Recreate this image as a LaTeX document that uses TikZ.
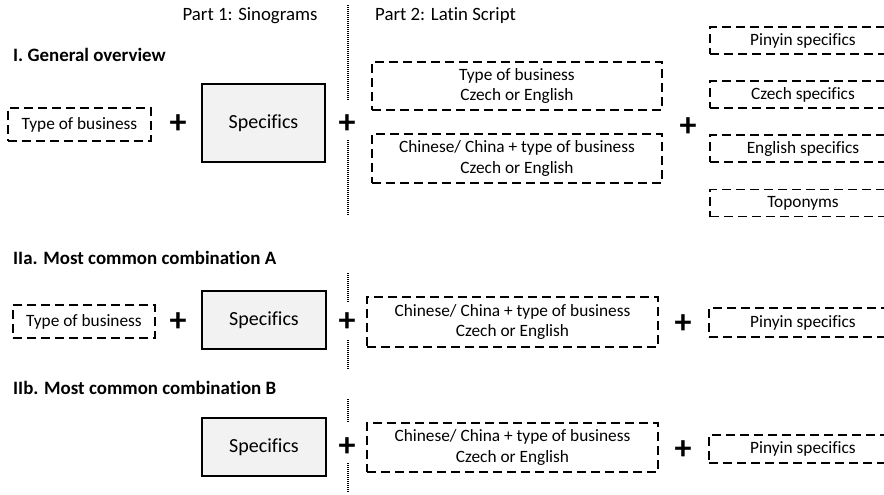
\documentclass[tikz,border=0pt]{standalone}
\usepackage{fontspec}
\setmainfont{Carlito}[Ligatures=NoCommon]
\usetikzlibrary{positioning}

\begin{document}
\begin{tikzpicture}[x=1pt,y=-1pt,
  dashbox/.style={draw=black, line width=1.9pt, dash pattern=on 9pt off 5pt,
    inner sep=0pt, align=center, font=\fontsize{17.3}{20.5}\selectfont},
  specbox/.style={draw=black, line width=1.6pt, fill=specFill, inner sep=0pt,
    font=\fontsize{20}{24}\selectfont},
  plus/.style={inner sep=0pt, font=\fontsize{34}{34}\selectfont\bfseries},
  head/.style={anchor=west, inner sep=0pt, font=\fontsize{18.9}{22}\selectfont\bfseries},
  part/.style={inner sep=0pt, font=\fontsize{18.8}{22}\selectfont},
  sep/.style={line width=1.1pt, dash pattern=on 1pt off 1pt}]
\definecolor{specFill}{RGB}{242,242,242}
\useasboundingbox (0,0) rectangle (884,495);

% column titles
\node[part] (partA) at (250,16) {Part 1: Sinograms};
\node[part, anchor=west] (partB) at (375,16) {Part 2: Latin Script};

% I. General overview
\node[head] (headI) at (13,55) {I. General overview};
\node[dashbox, minimum width=143, minimum height=33] (typeI) at (79.5,124.5) {Type of business};
\node[plus] (plusIa) at (178,124) {+};
\node[specbox, minimum width=123, minimum height=78] (specI) at (263.5,123) {Specifics};
\node[plus] (plusIb) at (347,124) {+};
\node[dashbox, minimum width=290, minimum height=48] (latinIa) at (517,86) {Type of business\\Czech or English};
\node[dashbox, minimum width=290, minimum height=49] (latinIb) at (517,158.5) {Chinese/ China + type of business\\Czech or English};
\node[plus] (plusIc) at (688,127) {+};
\node[dashbox, minimum width=186, minimum height=27] (pinyinI) at (803,40.5) {Pinyin specifics};
\node[dashbox, minimum width=186, minimum height=27] (czechI) at (803,94.5) {Czech specifics};
\node[dashbox, minimum width=186, minimum height=27] (englishI) at (803,148.5) {English specifics};
\node[dashbox, minimum width=186, minimum height=27] (topoI) at (803,203) {Toponyms};

\draw[sep] (348,5) -- (348,100);
\draw[sep] (348,140) -- (348,215);

% IIa. Most common combination A
\node[head] (headIIa) at (13,258) {IIa. Most common combination A};
\node[dashbox, minimum width=142, minimum height=33] (typeIIa) at (84,321.5) {Type of business};
\node[plus] (plusIIa) at (178,322) {+};
\node[specbox, minimum width=124, minimum height=58] (specIIa) at (264,320) {Specifics};
\node[plus] (plusIIb) at (347,322) {+};
\node[dashbox, minimum width=291, minimum height=50] (latinIIa) at (512.5,322) {Chinese/ China + type of business\\Czech or English};
\node[plus] (plusIIc) at (683,324) {+};
\node[dashbox, minimum width=188, minimum height=29] (pinyinIIa) at (803,322.5) {Pinyin specifics};

\draw[sep] (348,273) -- (348,302);
\draw[sep] (348,340) -- (348,369);

% IIb. Most common combination B
\node[head] (headIIb) at (13,388) {IIb. Most common combination B};
\node[specbox, minimum width=124, minimum height=58] (specIIb) at (264,447) {Specifics};
\node[plus] (plusIIIb) at (347,447) {+};
\node[dashbox, minimum width=291, minimum height=49] (latinIIb) at (512.5,447.5) {Chinese/ China + type of business\\Czech or English};
\node[plus] (plusIIIc) at (683,450) {+};
\node[dashbox, minimum width=188, minimum height=28] (pinyinIIb) at (803,449) {Pinyin specifics};

\draw[sep] (348,399) -- (348,423);
\draw[sep] (348,463) -- (348,493);
\end{tikzpicture}
\end{document}
